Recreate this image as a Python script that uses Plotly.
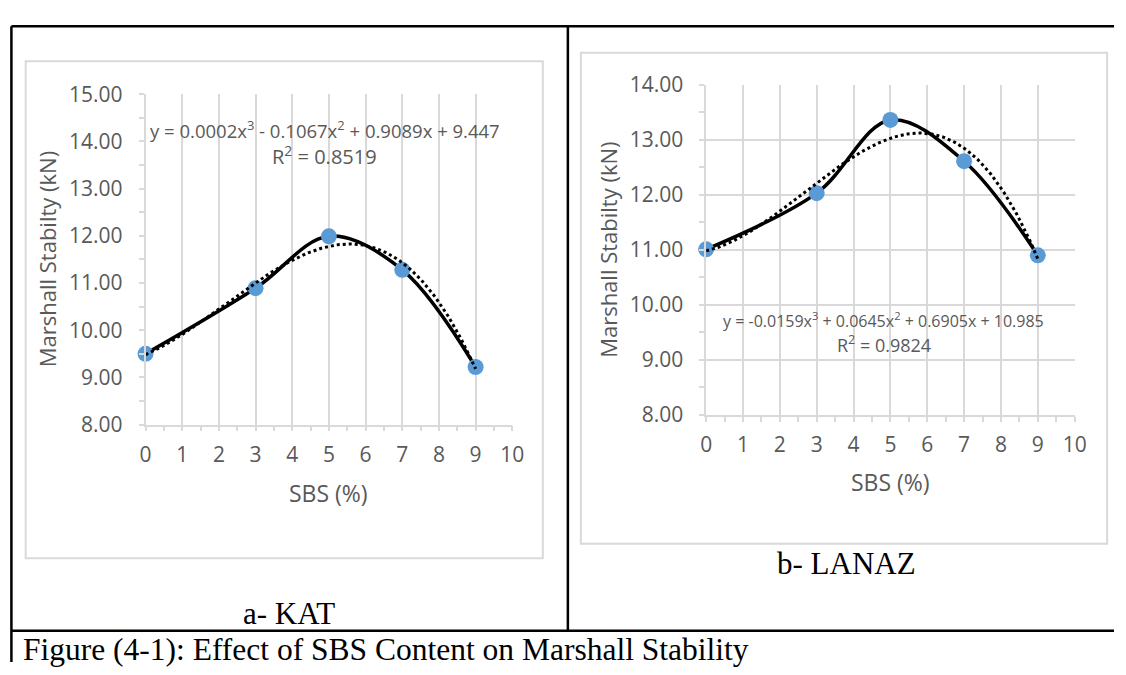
import numpy as np
import plotly.graph_objects as go

W, H = 1126, 675

# ---------------- data ----------------
sbs = [0, 3, 5, 7, 9]
kat_stability = [9.50, 10.89, 11.99, 11.28, 9.22]
lanaz_stability = [11.01, 12.03, 13.36, 12.61, 10.90]

x_ticks = list(range(0, 11))
kat_y_ticks = [8, 9, 10, 11, 12, 13, 14, 15]
lanaz_y_ticks = [8, 9, 10, 11, 12, 13, 14]

kat_eq = "y = 0.0002x<sup>3</sup> - 0.1067x<sup>2</sup> + 0.9089x + 9.447"
kat_r2 = "R<sup>2</sup> = 0.8519"
lanaz_eq = "y = -0.0159x<sup>3</sup> + 0.0645x<sup>2</sup> + 0.6905x + 10.985"
lanaz_r2 = "R<sup>2</sup> = 0.9824"

x_title = "SBS (%)"
y_title = "Marshall Stabilty (kN)"
cap_a = "a- KAT"
cap_b = "b- LANAZ"
fig_caption = "Figure (4-1): Effect of SBS Content on Marshall Stability"

def px(x):
    return x / W

def py(y):
    return 1 - y / H

BLUE = "#5b9bd5"
GRID = "#d9d9d9"
TXT = "#595959"
SANS = "Open Sans"
SERIF = "Liberation Serif, Times New Roman, serif"

fig = go.Figure()

def add_panel(yvals, xa, ya):
    fig.add_trace(go.Scatter(
        x=sbs, y=yvals, mode="lines+markers",
        line=dict(color="black", width=3.5, shape="spline", smoothing=1.0),
        marker=dict(color=BLUE, size=16),
        xaxis=xa, yaxis=ya, cliponaxis=False, showlegend=False,
    ))
    coef = np.polyfit(sbs, yvals, 3)
    xs = np.linspace(min(sbs), max(sbs), 200)
    fig.add_trace(go.Scatter(
        x=xs, y=np.polyval(coef, xs), mode="lines",
        line=dict(color="black", width=3, dash="3px,3px"),
        xaxis=xa, yaxis=ya, cliponaxis=False, showlegend=False,
    ))

add_panel(kat_stability, "x", "y")
add_panel(lanaz_stability, "x2", "y2")

tickfont = dict(family=SANS, size=21, color=TXT)
minor = dict(dtick=0.5, ticks="outside", ticklen=5, tickcolor=GRID, tickwidth=1.5, showgrid=False)

common_x = dict(range=[0, 10], tickvals=x_ticks, ticks="outside", ticklen=5, tickcolor=GRID,
                tickwidth=1.5, showline=True, linecolor=GRID, linewidth=1.5,
                gridcolor=GRID, gridwidth=1.8, zeroline=False, tickfont=tickfont,
                minor=minor, ticklabelstandoff=5)
common_y = dict(ticks="outside", ticklen=5, tickcolor=GRID, tickwidth=1.5, showline=True,
                linecolor=GRID, linewidth=1.5, gridcolor=GRID, gridwidth=1.8, zeroline=False,
                tickfont=tickfont, tickformat=".2f", minor=minor, ticklabelstandoff=12)

fig.update_layout(
    width=W, height=H, autosize=False,
    margin=dict(l=0, r=0, t=0, b=0),
    paper_bgcolor="white", plot_bgcolor="white",
    showlegend=False,
    xaxis=dict(domain=[px(141.8), px(514.5)], anchor="y", showgrid=True, **common_x),
    yaxis=dict(domain=[py(427.3), py(82.7)], anchor="x", range=[8, 15],
               tickvals=kat_y_ticks, showgrid=False, **common_y),
    xaxis2=dict(domain=[px(711.5), px(1086)], anchor="y2", showgrid=True, **common_x),
    yaxis2=dict(domain=[py(417.3), py(72.7)], anchor="x2", range=[8, 14],
                tickvals=lanaz_y_ticks, showgrid=True, **common_y),
)

shapes = []
for (x0, y0, x1, y1) in [(20, 48.3, 545.5, 566.7), (584.2, 39.3, 1119, 551.7)]:
    shapes.append(dict(type="rect", xref="paper", yref="paper",
                       x0=px(x0), x1=px(x1), y0=py(y1), y1=py(y0),
                       line=dict(color=GRID, width=2), fillcolor="rgba(0,0,0,0)", layer="below"))
for (x0, y0, x1, y1) in [(5.5, 11.7, 1126, 11.7), (5.5, 11.7, 5.5, 675),
                         (571, 11.7, 571, 642.5), (5.5, 642.5, 1126, 642.5)]:
    shapes.append(dict(type="line", xref="paper", yref="paper",
                       x0=px(x0), x1=px(x1), y0=py(y0), y1=py(y1),
                       line=dict(color="black", width=2.5)))
fig.update_layout(shapes=shapes)

ann = []
def text(x, y, s, size, family=SANS, color=TXT, angle=0, xanchor="center"):
    ann.append(dict(x=px(x), y=py(y), xref="paper", yref="paper", text=s, showarrow=False,
                    font=dict(family=family, size=size, color=color), textangle=angle,
                    xanchor=xanchor, yanchor="middle"))

text(324, 119.3, kat_eq, 18.5)
text(324, 146.7, kat_r2, 20)
text(892, 318, lanaz_eq, 16)
text(892, 343, lanaz_r2, 18)

text(42.5, 255, y_title, 22, angle=-90)
text(611.8, 245, y_title, 22, angle=-90)
text(328, 499, x_title, 23)
text(898.5, 486.7, x_title, 23)

text(288, 624, cap_a, 31, family=SERIF, color="black")
text(853.7, 572.5, cap_b, 31, family=SERIF, color="black")
text(15, 662, fig_caption, 31.5, family=SERIF, color="black", xanchor="left")
fig.update_layout(annotations=ann)

fig.write_html("out.html", post_script="document.body.style.margin='0';",
               config={"displayModeBar": False})
